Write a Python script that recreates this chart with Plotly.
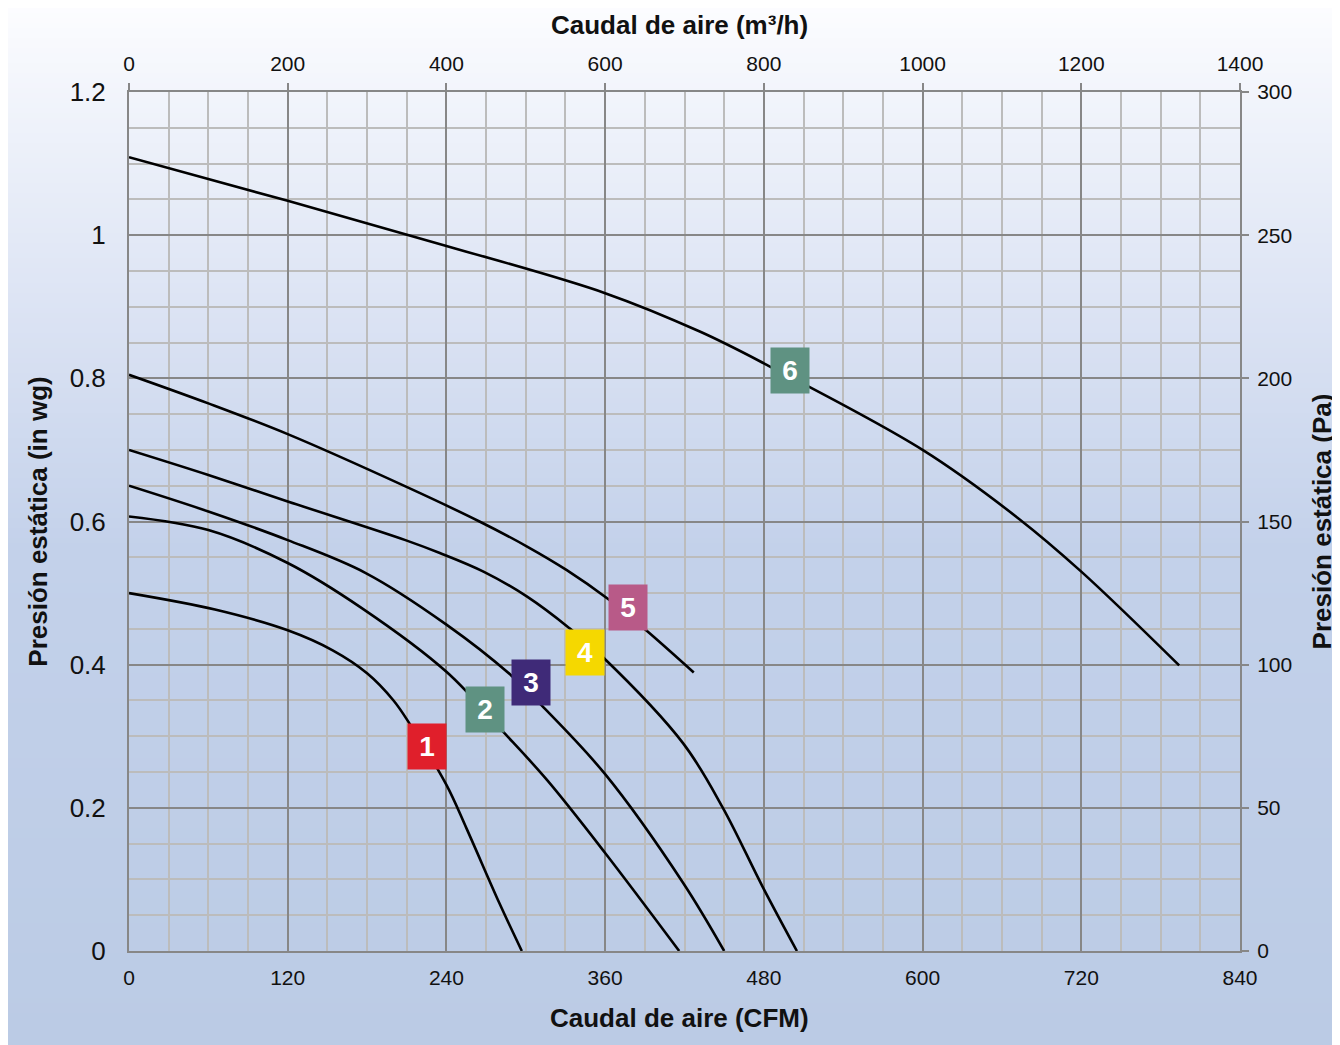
import plotly.graph_objects as go

# ---------------- data (CFM, in wg) ----------------
c1_cfm = [0, 65, 120, 154, 180, 200, 212, 240, 255, 280, 297]
c1_p   = [0.50, 0.477, 0.448, 0.42, 0.388, 0.35, 0.318, 0.232, 0.172, 0.067, 0.0]

c2_cfm = [0, 60, 120, 176, 240, 283, 316, 360, 416]
c2_p   = [0.607, 0.588, 0.542, 0.479, 0.39, 0.306, 0.239, 0.137, 0.0]

c3_cfm = [0, 60, 120, 179, 240, 289, 312, 360, 419, 450]
c3_p   = [0.65, 0.614, 0.574, 0.528, 0.456, 0.385, 0.343, 0.247, 0.095, 0.0]

c4_cfm = [0, 60, 120, 209, 235, 268, 301, 333, 358, 419, 449, 479, 505]
c4_p   = [0.70, 0.665, 0.628, 0.574, 0.556, 0.53, 0.495, 0.451, 0.411, 0.29, 0.20, 0.09, 0.0]

c5_cfm = [0, 60, 120, 209, 265, 301, 331, 362, 391, 427]
c5_p   = [0.805, 0.765, 0.722, 0.649, 0.60, 0.565, 0.532, 0.492, 0.448, 0.389]

c6_cfm = [0, 120, 240, 360, 432, 480, 600, 672, 720, 794]
c6_p   = [1.109, 1.048, 0.985, 0.919, 0.865, 0.821, 0.70, 0.605, 0.53, 0.399]

curves = [(c1_cfm, c1_p), (c2_cfm, c2_p), (c3_cfm, c3_p),
          (c4_cfm, c4_p), (c5_cfm, c5_p), (c6_cfm, c6_p)]

label_text  = ["1", "2", "3", "4", "5", "6"]
label_cfm   = [225.3, 269, 303.8, 344.5, 377.3, 500]
label_inwg  = [0.286, 0.337, 0.375, 0.417, 0.48, 0.811]
label_color = ["#e01f2b", "#5f9282", "#3f2a78", "#f5d800", "#b85a88", "#5f9282"]

x_ticks_cfm = [0, 120, 240, 360, 480, 600, 720, 840]
x_ticks_m3h = [0, 200, 400, 600, 800, 1000, 1200, 1400]
y_ticks_pa  = [0, 50, 100, 150, 200, 250, 300]

# ---------------- figure ----------------
W, H = 1340, 1045
OFF = 8                      # page body margin
L, T = 129 - OFF, 92 - OFF
pw, ph = 1111, 859
R, B = W - L - pw, H - T - ph

fig = go.Figure()

for cx, cy in curves:
    fig.add_trace(go.Scatter(x=cx, y=cy, mode="lines",
                             line=dict(color="black", width=2.6, shape="spline", smoothing=1.0),
                             showlegend=False, hoverinfo="skip"))

# empty trace to activate top / right axes
fig.add_trace(go.Scatter(x=[], y=[], xaxis="x2", yaxis="y2", showlegend=False))

# background gradient (vertical), stops in screen pixels
stops = [(0, (253, 253, 255)), (100, (241, 244, 251)), (300, (221, 228, 244)),
         (550, (195, 209, 234)), (1045, (187, 203, 229))]

def col_at(py):
    for (y0, c0), (y1, c1) in zip(stops[:-1], stops[1:]):
        if y0 <= py <= y1:
            t = (py - y0) / (y1 - y0)
            return "rgb(%d,%d,%d)" % tuple(round(a + (b - a) * t) for a, b in zip(c0, c1))
    return "rgb(%d,%d,%d)" % stops[-1][1]

shapes = []
step = 5
for fy in range(0, H, step):          # figure pixel rows
    y_top = (T + ph - fy) / ph
    y_bot = (T + ph - (fy + step + 1)) / ph
    shapes.append(dict(type="rect", xref="paper", yref="paper",
                       x0=-L / pw - 0.01, x1=(W - L) / pw + 0.01, y0=y_bot, y1=y_top,
                       fillcolor=col_at(fy + OFF + step / 2), line=dict(width=0), layer="below"))

FONT = "Arial, Liberation Sans, sans-serif"
major = "#878787"
minor = "#bcbcbc"
TXT = "#111"

annotations = []
for t, cx, cy, c in zip(label_text, label_cfm, label_inwg, label_color):
    annotations.append(dict(x=cx, y=cy, xref="x", yref="y", text="<b>%s</b>" % t,
                            showarrow=False, bgcolor=c, width=38, height=45, borderpad=0,
                            font=dict(family=FONT, size=28, color="white"),
                            align="center", valign="middle"))

# horizontal axis titles (placed as annotations for exact position)
def paper_x(sx):
    return (sx - OFF - L) / pw

def paper_y(sy):
    return (T + ph - (sy - OFF)) / ph

annotations.append(dict(x=paper_x(679), y=paper_y(25), xref="paper", yref="paper",
                        text="<b>Caudal de aire (m³/h)</b>", showarrow=False,
                        xanchor="center", yanchor="middle", font=dict(family=FONT, size=26, color=TXT)))
annotations.append(dict(x=paper_x(679), y=paper_y(1018), xref="paper", yref="paper",
                        text="<b>Caudal de aire (CFM)</b>", showarrow=False,
                        xanchor="center", yanchor="middle", font=dict(family=FONT, size=26, color=TXT)))

fig.update_layout(
    width=W, height=H,
    margin=dict(l=L, r=R, t=T, b=B, pad=0, autoexpand=False),
    paper_bgcolor="white",
    plot_bgcolor="rgba(0,0,0,0)",
    shapes=shapes,
    annotations=annotations,
    font=dict(family=FONT, color=TXT),
    xaxis=dict(range=[0, 840], tickvals=x_ticks_cfm, showgrid=True, gridcolor=major, gridwidth=2,
               minor=dict(dtick=30, showgrid=True, gridcolor=minor, gridwidth=1.5),
               showline=True, linecolor=major, linewidth=2, mirror=True, zeroline=False,
               ticks="", ticklabelstandoff=7, tickfont=dict(size=21, color=TXT)),
    yaxis=dict(range=[0, 1.2], dtick=0.2, showgrid=True, gridcolor=major, gridwidth=2,
               minor=dict(dtick=0.05, showgrid=True, gridcolor=minor, gridwidth=1.5),
               showline=True, linecolor=major, linewidth=2, mirror=True, zeroline=False,
               ticks="", ticklabelstandoff=16, tickfont=dict(size=26, color=TXT),
               title=dict(text="<b>Presión estática (in wg)</b>", font=dict(size=26, color=TXT), standoff=15)),
    xaxis2=dict(range=[0, 1400], tickvals=x_ticks_m3h, overlaying="x", side="top", showgrid=False,
                zeroline=False, ticks="outside", ticklen=8, tickcolor=major, tickwidth=1.5,
                ticklabelstandoff=4, tickfont=dict(size=21, color=TXT)),
    yaxis2=dict(range=[0, 300], tickvals=y_ticks_pa, overlaying="y", side="right", showgrid=False,
                zeroline=False, ticks="outside", ticklen=8, tickcolor=major, tickwidth=1.5,
                ticklabelstandoff=4, tickfont=dict(size=21, color=TXT),
                title=dict(text="<b>Presión estática (Pa)</b>", font=dict(size=26, color=TXT), standoff=21)),
)

fig.write_html("out.html")
